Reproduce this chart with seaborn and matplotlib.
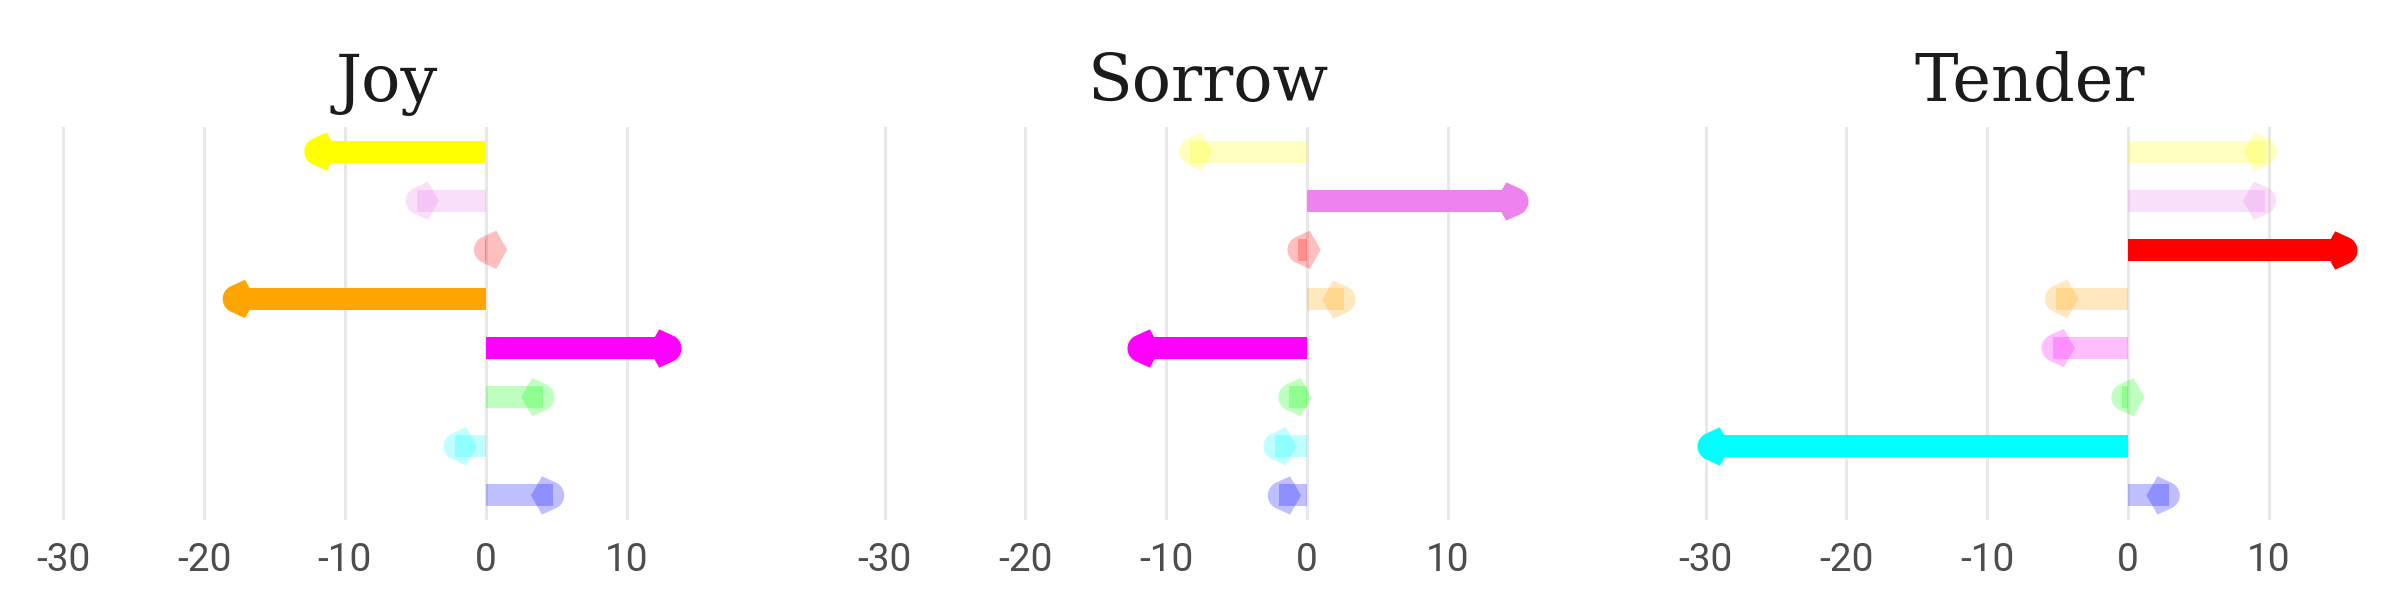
import numpy as np
import pandas as pd
import matplotlib
matplotlib.use('Agg')
import matplotlib.pyplot as plt
from matplotlib.path import Path
from matplotlib import font_manager
import seaborn as sns

# rows top to bottom, one arrow per swatch
swatches = ['yellow', 'violet', 'red', 'orange', 'magenta', 'lime', 'cyan', 'blue']
swatch_hex = ['#ffff00', '#ee82ee', '#ff0000', '#ffa500',
              '#ff00ff', '#00ff00', '#00ffff', '#0000ff']

emotions = ['Joy', 'Sorrow', 'Tender']
joy = [-12.1, -4.9, -0.05, -17.9, 13.1, 4.1, -2.2, 4.8]
sorrow = [-8.3, 14.9, -0.6, 2.65, -12.0, -1.25, -2.3, -2.0]
tender = [9.8, 9.75, 15.5, -5.1, -5.35, -0.4, -29.85, 2.9]
highlighted = {
    'Joy': ['yellow', 'orange', 'magenta'],
    'Sorrow': ['violet', 'magenta'],
    'Tender': ['red', 'cyan'],
}
x_ticks = [-30, -20, -10, 0, 10]

values = {'Joy': joy, 'Sorrow': sorrow, 'Tender': tender}
palette = dict(zip(swatches, swatch_hex))
FADED = 0.25
BAR_WIDTH = 0.45

sns.set_style('white')
names = {f.name for f in font_manager.fontManager.ttflist}
tick_font = 'Liberation Sans Narrow' if 'Liberation Sans Narrow' in names else 'Roboto'
plt.rcParams['font.family'] = ['DejaVu Sans']


def head_path(sign):
    """Arrow head in pixel units, origin at the bar end, pointing right for sign=+1."""
    radius, cx = 14.0, -3.0
    back = -22.3
    vx, vy = -11.3, 19.2
    dist = np.hypot(vx - cx, vy)
    t = np.arctan2(vy, vx - cx) - np.arccos(radius / dist)
    arc = np.linspace(t, -t, 40)
    pts = [(back, 0.0), (vx, vy)]
    pts += [(cx + radius * np.cos(a), radius * np.sin(a)) for a in arc]
    pts += [(vx, -vy), (back, 0.0)]
    pts = np.array(pts)
    pts[:, 0] *= sign
    return Path(pts, closed=True)


heads = {'right': head_path(1), 'left': head_path(-1)}
head_size = (2 * 22.3 * 0.72) ** 2

fig = plt.figure(figsize=(24, 6), dpi=100)
minus30_px = [63.3, 884.5, 1705.5]
px_per_unit = 14.08
xlim = (-31, 17)

for emotion, x30 in zip(emotions, minus30_px):
    left = (x30 - (xlim[0] + 30) * -px_per_unit) / 2400
    width = (xlim[1] - xlim[0]) * px_per_unit / 2400
    ax = fig.add_axes([left, 80 / 600, width, 393 / 600])

    df = pd.DataFrame({
        'row': range(len(swatches)),
        'swatch': swatches,
        'value': values[emotion],
    })
    df['direction'] = np.where(df['value'] >= 0, 'right', 'left')
    df['strong'] = df['swatch'].isin(highlighted[emotion])

    sns.barplot(data=df, x='value', y='row', hue='swatch', palette=palette,
                orient='h', width=BAR_WIDTH, saturation=1, dodge=False,
                legend=False, ax=ax, errorbar=None, linewidth=0)
    for patch in ax.patches:
        row = int(round(patch.get_y() + patch.get_height() / 2))
        patch.set_y(row - BAR_WIDTH / 2)
        patch.set_height(BAR_WIDTH)
        patch.set_alpha(1.0 if df.loc[row, 'strong'] else FADED)

    for direction, marker in heads.items():
        for strong in (True, False):
            sub = df[(df['direction'] == direction) & (df['strong'] == strong)]
            if sub.empty:
                continue
            sns.scatterplot(data=sub, x='value', y='row', hue='swatch',
                            palette=palette, marker=marker, s=head_size,
                            alpha=1.0 if strong else FADED, linewidth=0,
                            legend=False, ax=ax, zorder=3)

    ax.set_xlim(xlim)
    ax.set_ylim(len(swatches) - 0.5, -0.5)
    ax.set_xlabel('')
    ax.set_ylabel('')
    ax.grid(axis='x', color='#e8e8e8', linewidth=2.2)
    ax.set_axisbelow(True)
    ax.tick_params(axis='x', length=0, pad=15.5)
    ax.set_yticks([])
    ax.set_xticks(x_ticks)
    ax.set_xticklabels([str(t) for t in x_ticks], family=[tick_font, 'DejaVu Sans'],
                       fontsize=28, color='#4d4d4d')
    for spine in ax.spines.values():
        spine.set_visible(False)
    ax.text(0.5, 1.066, emotion, transform=ax.transAxes, ha='center', va='baseline',
            family=['DejaVu Serif'], fontsize=47, color='#1b1b1b')

fig.savefig('out.png', dpi=100)
